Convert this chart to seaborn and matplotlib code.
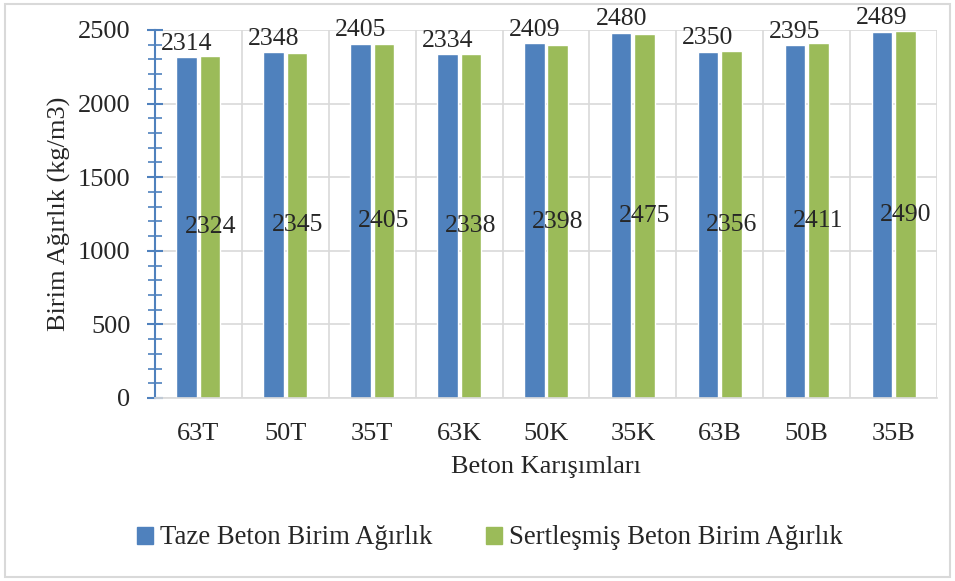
import seaborn as sns
import matplotlib.pyplot as plt
from matplotlib.patches import Rectangle
from matplotlib.ticker import MultipleLocator
import numpy as np
import pandas as pd

categories = ['63T', '50T', '35T', '63K', '50K', '35K', '63B', '50B', '35B']
taze = [2314, 2348, 2405, 2334, 2409, 2480, 2350, 2395, 2489]
sertlesmis = [2324, 2345, 2405, 2338, 2398, 2475, 2356, 2411, 2490]
series_names = ['Taze Beton Birim Ağırlık', 'Sertleşmiş Beton Birim Ağırlık']
colors = ['#4F81BD', '#9BBB59']

df = pd.DataFrame({
    'Karışım': categories * 2,
    'Değer': taze + sertlesmis,
    'Seri': [series_names[0]] * len(categories) + [series_names[1]] * len(categories),
})

sns.set_style('white')
plt.rcParams['font.family'] = ['Liberation Serif', 'DejaVu Serif']

fig = plt.figure(figsize=(9.55, 5.81), dpi=100)
ax = fig.add_axes([155 / 955, 1 - 398 / 581, (937 - 155) / 955, (398 - 30) / 581])

sns.barplot(data=df, x='Karışım', y='Değer', hue='Seri', palette=colors,
            width=0.54, gap=0.12, ax=ax, legend=False, saturation=1)

# data labels: first series above the bar, second series at bar centre
ax.bar_label(ax.containers[0], labels=[str(v) for v in taze], padding=2,
             fontsize=18.5, clip_on=False)
ax.bar_label(ax.containers[1], labels=[str(v) for v in sertlesmis],
             label_type='center', fontsize=18.5)

ax.set_xlim(-0.5, len(categories) - 0.5)
ax.set_ylim(0, 2500)
ax.yaxis.set_major_locator(MultipleLocator(500))
ax.yaxis.set_minor_locator(MultipleLocator(100))
ax.set_xticks(np.arange(-0.5, len(categories), 1), minor=True)

ax.yaxis.grid(True, which='major', color='#D9D9D9', linewidth=1.2)
ax.xaxis.grid(True, which='minor', color='#D9D9D9', linewidth=1.2)
ax.set_axisbelow(True)

for side in ['top', 'right']:
    ax.spines[side].set_visible(False)
ax.spines['bottom'].set_color('#D9D9D9')
ax.spines['bottom'].set_linewidth(1.2)
ax.spines['left'].set_color('#4F81BD')
ax.spines['left'].set_linewidth(1.5)

ax.tick_params(axis='y', which='major', direction='inout', length=11.5, width=1.5,
               color='#4F81BD', labelsize=19, pad=12, left=True)
ax.tick_params(axis='y', which='minor', direction='inout', length=10, width=1.2,
               color='#4F81BD', left=True)
ax.tick_params(axis='x', which='both', length=0, labelsize=19, pad=18)

ax.set_xlabel('Beton Karışımları', fontsize=19, labelpad=8)
ax.set_ylabel('Birim Ağırlık (kg/m3)', fontsize=19, labelpad=5)

handles = [Rectangle((0, 0), 1, 1, color=c) for c in colors]
fig.legend(handles, series_names, loc='center', bbox_to_anchor=(0.513, 1 - 538 / 581),
           ncol=2, frameon=False, fontsize=19.3, handlelength=0.6, handleheight=0.6,
           handletextpad=0.25, columnspacing=2.0)

fig.patches.append(Rectangle((5 / 955, 4 / 581), 945 / 955, 573 / 581,
                             transform=fig.transFigure, fill=False,
                             edgecolor='#D9D9D9', linewidth=1.5))

fig.savefig('out.png', dpi=100)
